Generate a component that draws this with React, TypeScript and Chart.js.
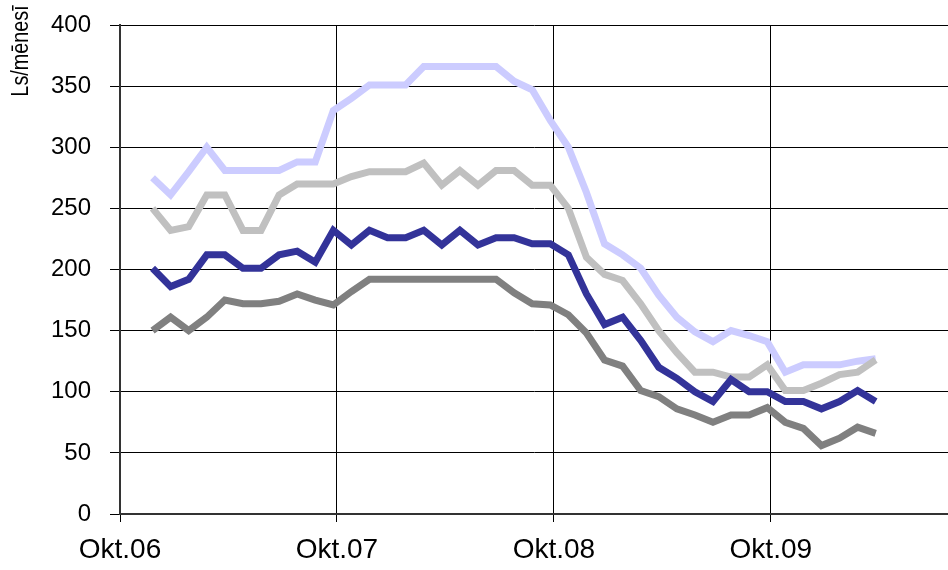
import { useEffect, useRef } from "react";
import { Chart, registerables } from "chart.js";

Chart.register(...registerables);

// X axis: months counted from Okt.06
const xTickMonths = [0, 12, 24, 36];
const xTickLabels = ["Okt.06", "Okt.07", "Okt.08", "Okt.09"];
const xAxisMaxMonth = 45.8;
const firstPointMonth = 1.8;

// Y axis
const yMin = 0;
const yMax = 400;
const yStep = 50;
const yTitle = "Ls/mēnesī";

// Series values (Ls per month), monthly points
const seriesLavender = [
  275, 261, 280, 300, 281, 281, 281, 281, 288, 288, 330, 340, 351, 351, 351, 366, 366, 366, 366, 366,
  354, 347, 322, 300, 263, 221, 212, 201, 179, 161, 149, 141, 150, 146, 141, 116, 122, 122, 122, 125, 127,
];
const seriesLightGray = [
  250, 232, 235, 261, 261, 232, 232, 261, 270, 270, 270, 276, 280, 280, 280, 287, 269, 281, 269, 281,
  281, 269, 269, 250, 210, 196, 191, 172, 150, 132, 116, 116, 112, 112, 122, 101, 101, 107, 114, 116, 126,
];
const seriesNavy = [
  201, 186, 192, 212, 212, 201, 201, 212, 215, 206, 232, 220, 232, 226, 226, 232, 220, 232, 220, 226,
  226, 221, 221, 212, 180, 155, 161, 142, 120, 111, 100, 92, 110, 100, 100, 92, 92, 86, 92, 101, 92,
];
const seriesDarkGray = [
  150, 161, 150, 161, 175, 172, 172, 174, 180, 175, 171, 182, 192, 192, 192, 192, 192, 192, 192, 192,
  181, 172, 171, 163, 148, 126, 121, 101, 96, 86, 81, 75, 81, 81, 87, 75, 70, 56, 62, 71, 66,
];

const FONT = '"Liberation Sans", Arial, sans-serif';

function toPoints(values: number[]) {
  return values.map((v, i) => ({ x: firstPointMonth + i, y: v }));
}

const yTitlePlugin = {
  id: "yTitleCustom",
  afterDraw(chart: any) {
    const ctx = chart.ctx as CanvasRenderingContext2D;
    ctx.save();
    ctx.translate(28, 51);
    ctx.rotate(-Math.PI / 2);
    ctx.scale(0.86, 1);
    ctx.font = `23px ${FONT}`;
    ctx.fillStyle = "#000";
    ctx.textAlign = "center";
    ctx.textBaseline = "alphabetic";
    ctx.fillText(yTitle, 0, 0);
    ctx.restore();
  },
};

export default function App() {
  const canvasRef = useRef<HTMLCanvasElement | null>(null);

  useEffect(() => {
    if (!canvasRef.current) return;
    const mk = (label: string, data: number[], color: string, order: number) => ({
      label,
      data: toPoints(data),
      borderColor: color,
      backgroundColor: color,
      borderWidth: 7,
      pointRadius: 0,
      tension: 0,
      fill: false,
      order,
      borderCapStyle: "butt" as const,
      borderJoinStyle: "miter" as const,
    });
    const chart = new Chart(canvasRef.current, {
      type: "line",
      data: {
        datasets: [
          mk("A", seriesLavender, "#CCCCFF", 4),
          mk("B", seriesLightGray, "#C0C0C0", 3),
          mk("D", seriesDarkGray, "#808080", 2),
          mk("C", seriesNavy, "#333399", 1),
        ],
      },
      options: {
        animation: false,
        responsive: false,
        devicePixelRatio: 1,
        layout: { padding: { top: 25, left: 0, right: 0, bottom: 0 } },
        plugins: {
          legend: { display: false },
          tooltip: { enabled: false },
          title: { display: false },
        },
        scales: {
          x: {
            type: "linear",
            min: 0,
            max: xAxisMaxMonth,
            afterBuildTicks: (scale: any) => {
              scale.ticks = xTickMonths.map((v) => ({ value: v }));
            },
            afterFit: (scale: any) => {
              scale.height = 56;
              scale.paddingLeft = 0;
              scale.paddingRight = 0;
            },
            ticks: {
              autoSkip: false,
              maxRotation: 0,
              minRotation: 0,
              padding: 11,
              color: "#000",
              font: { family: FONT, size: 28 },
              callback: (value: any) => {
                const idx = xTickMonths.indexOf(Number(value));
                return idx >= 0 ? xTickLabels[idx] : "";
              },
            },
            grid: {
              color: "#000",
              lineWidth: 1,
              tickLength: 8,
              drawTicks: true,
            },
            border: { display: true, color: "#333", width: 2 },
          },
          y: {
            type: "linear",
            min: yMin,
            max: yMax,
            afterFit: (scale: any) => {
              scale.width = 120;
              scale.paddingTop = 0;
              scale.paddingBottom = 0;
            },
            ticks: {
              stepSize: yStep,
              padding: 19,
              color: "#000",
              font: { family: FONT, size: 24 },
            },
            grid: {
              color: "#000",
              lineWidth: 1,
              tickLength: 10,
              drawTicks: true,
            },
            border: { display: true, color: "#333", width: 2 },
          },
        },
      },
      plugins: [yTitlePlugin],
    });
    return () => chart.destroy();
  }, []);

  return (
    <div style={{ position: "absolute", left: 0, top: 0, width: 948, height: 570, background: "#fff" }}>
      <canvas ref={canvasRef} width={948} height={570} style={{ display: "block" }} />
    </div>
  );
}
